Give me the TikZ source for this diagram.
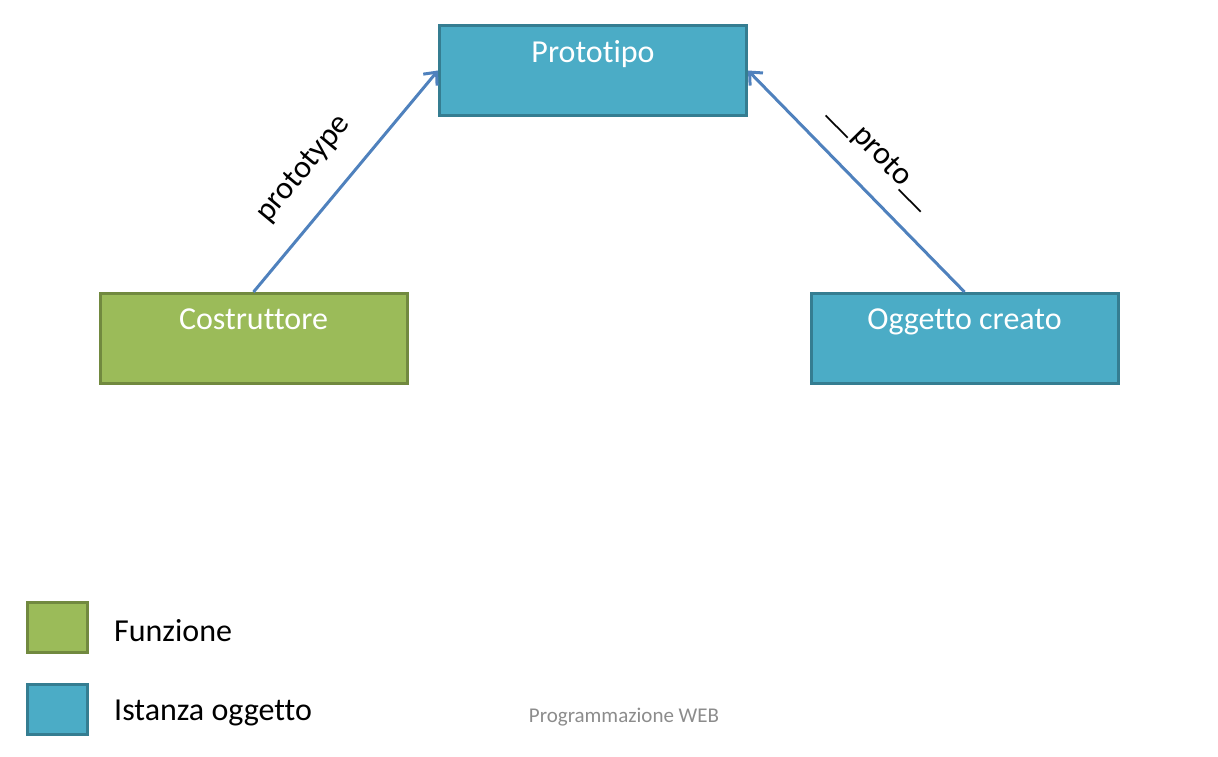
\documentclass[tikz,border=0pt]{standalone}
\usepackage{fontspec}
\setmainfont{Carlito}[Ligatures=NoCommon]
\usetikzlibrary{arrows.meta, positioning}
\definecolor{funcgreen}{HTML}{9BBB59}
\definecolor{funcgreenline}{HTML}{71893F}
\definecolor{objblue}{HTML}{4BACC6}
\definecolor{objblueline}{HTML}{357D91}
\definecolor{linkblue}{HTML}{4F81BD}
\definecolor{footgray}{HTML}{8C8C8C}
\tikzset{
  box/.style = {
    draw, line width=3pt, align=center, minimum width=307pt, minimum height=90pt,
    inner sep=2pt, text=white, font=\fontsize{32}{38.4}\selectfont
  },
  funcbox/.style = {box, fill=funcgreen, draw=funcgreenline},
  objbox/.style = {box, fill=objblue, draw=objblueline},
  keybox/.style = {draw, line width=3pt, minimum width=60pt, minimum height=50pt, inner sep=0pt},
  keytext/.style = {inner sep=0pt, yshift=-3pt, font=\fontsize{32}{38.4}\selectfont},
  link/.style = {-{Straight Barb[length=10pt, width=18pt, line width=3pt]}, line width=3pt, draw=linkblue},
  linklabel/.style = {sloped, inner sep=2pt, font=\fontsize{32}{38.4}\selectfont},
}

\begin{document}
\begin{tikzpicture}[x=1pt, y=1pt]
    \useasboundingbox (0,0) rectangle (1218,756);

    % Main boxes, text sits in the upper half
    \node[objbox] (proto) at (593,685.5) {Prototipo\\~};
    \node[funcbox] (cost) at (253.5,417.5) {Costruttore\\~};
    \node[objbox] (ogg) at (964.5,417.5) {Oggetto creato\\~};

    % Links to the prototype
    \draw[link] (cost.north) -- node[linklabel, above=24pt, pos=0.44] (protolbl) {prototype} (proto.west);
    \draw[link] (ogg.north) -- node[linklabel, above=19pt, pos=0.5] (dunderlbl) {\_\_proto\_\_} (proto.east);

    % Legend
    \node[keybox, fill=funcgreen, draw=funcgreenline] (funckey) at (57.5,128.5) {};
    \node[keybox, fill=objblue, draw=objblueline] (objkey) at (57.5,46.5) {};
    \node[keytext, right=25pt of funckey] (functxt) {Funzione};
    \node[keytext, right=25pt of objkey] (objtxt) {Istanza oggetto};

    % Footer
    \node[text=footgray, font=\fontsize{21}{25}\selectfont] (footer) at (624,39) {Programmazione WEB};

  \end{tikzpicture}
\end{document}
